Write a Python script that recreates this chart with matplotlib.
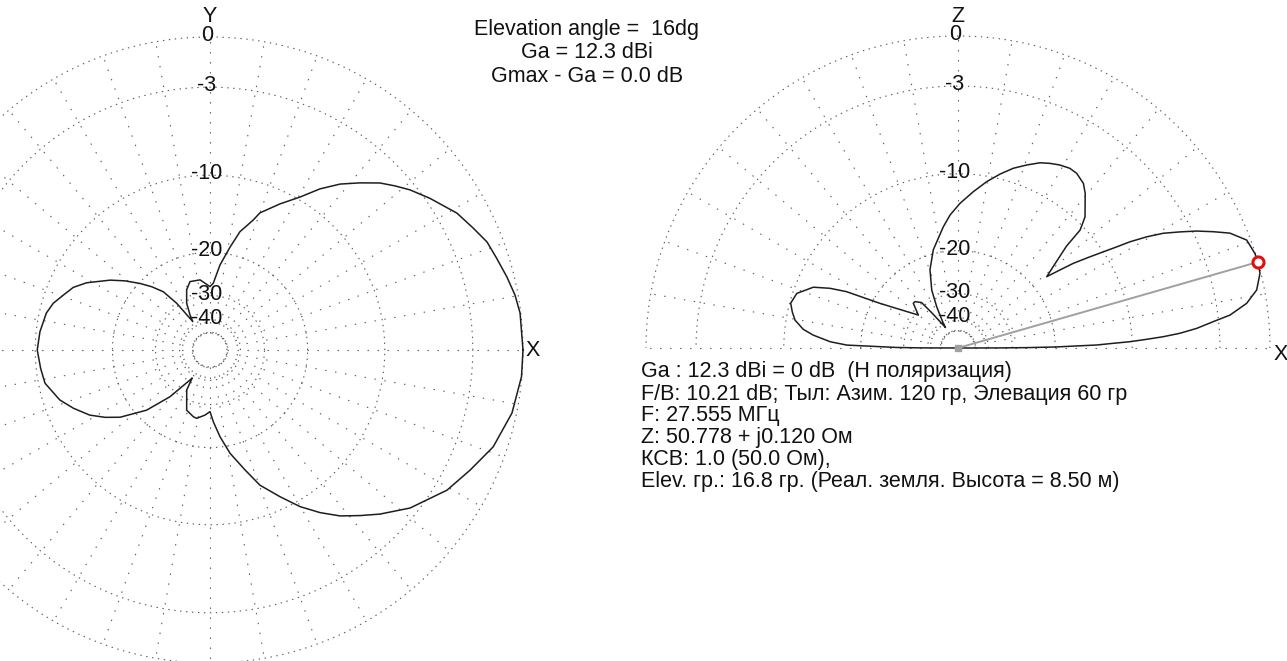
import numpy as np
import matplotlib
matplotlib.use('Agg')
import matplotlib.pyplot as plt

plt.rcParams['font.family'] = ['Liberation Sans', 'DejaVu Sans']
plt.rcParams['lines.scale_dashes'] = False

# ---------------- data ----------------
az_angle_deg = [0, 6.8, 10.2, 13.8, 17.7, 21.3, 24.8, 29.0, 34.6, 38.7,
                41.6, 44.5, 48.1, 51.9, 55.7, 59.5, 64.4, 70.0, 71.6, 75.8,
                79.0, 83.3, 87.2, 90.0, 98.1, 106.3, 111.2, 116.5, 119.7, 121.2,
                125.5, 128.7, 132.6, 136.4, 140.9, 145.0, 151.4, 155.4, 159.4, 163.4,
                167.3, 173.9, 180.0, 186.2, 191.4, 198.4, 203.1, 208.4, 212.7, 216.8,
                223.5, 229.4, 236.3, 237.5, 239.8, 248.8, 256.0, 259.0, 265.6, 270.0,
                272.6, 276.6, 281.0, 286.3, 290.3, 295.5, 299.9, 304.1, 308.1, 312.2,
                316.0, 321.7, 329.4, 335.2, 341.1, 348.2, 355.1, 360]
az_gain_db = [0, -0.04, -0.17, -0.40, -0.67, -0.88, -1.30, -1.77, -2.72, -3.44,
              -4.05, -4.68, -5.70, -6.78, -8.12, -9.73, -11.3, -13.1, -14.18, -16.17,
              -18.8, -22.25, -26.5, -27.4, -25.5, -25.4, -27.1, -30.7, -35.2, -38.5,
              -29.1, -24.6, -22.2, -20.2, -18.0, -16.2, -13.75, -12.58, -11.9, -11.14,
              -10.7, -10.37, -10.2, -10.44, -10.65, -11.7, -12.8, -14.2, -15.8, -17.6,
              -21.9, -27.9, -37.1, -38.5, -32.8, -27.1, -26.0, -25.8, -26.9, -27.9,
              -25.3, -21.9, -18.7, -15.75, -13.3, -11.25, -9.43, -8.0, -6.78, -5.78,
              -4.83, -3.52, -2.2, -1.52, -0.77, -0.25, -0.02, 0]

el_angle_deg = [0, 0.1, 0.3, 0.6, 1.24, 1.73, 2.1, 2.64, 3.15, 3.8,
                4.7, 5.9, 6.9, 8.8, 11.0, 13.9, 16.0, 17.6, 20.5, 22.9,
                24.5, 26.1, 27.6, 29.2, 30.5, 31.7, 32.5, 33.5, 34.8, 36.3,
                37.4, 38.8, 40.5, 43.2, 44.0, 45.9, 50.6, 52.7, 55.8, 58.1,
                60.9, 63.5, 66.1, 69.4, 72.9, 76.4, 80.2, 84.4, 89.2, 93.4,
                96.9, 104.1, 109.7, 114.4, 117.3, 120.8, 121.4, 126.6, 128.7, 132.8,
                135.0, 140.3, 150.2, 153.2, 155.0, 157.2, 161.3, 165.0, 167.7, 170.3,
                173.1, 174.9, 177.2, 178.5, 179.5, 179.8, 180]
el_gain_db = [-99, -35.8, -26.2, -20.0, -13.9, -11.97, -10.2, -8.61, -7.16, -5.8,
              -4.54, -3.35, -2.23, -1.13, -0.43, -0.05, 0, -0.02, -0.21, -0.95,
              -1.83, -2.75, -3.76, -4.85, -6.07, -7.45, -8.67, -10.0, -11.6, -13.4,
              -15.2, -17.3, -15.7, -12.7, -10.45, -9.2, -7.6, -7.05, -6.7, -6.66,
              -6.84, -7.10, -7.41, -8.02, -8.69, -9.54, -10.54, -11.78, -13.19, -14.6,
              -16.1, -19.3, -22.7, -27.3, -32.7, -40.9, -44.0, -33.8, -28.8, -27.4,
              -27.4, -30.9, -21.4, -15.7, -13.6, -11.8, -10.4, -10.1, -10.46, -10.9,
              -11.9, -13.1, -15.3, -17.7, -27.9, -36.0, -99]

ring_db = [0, -3, -10, -20, -30, -40, -50]
ring_labels = ['0', '-3', '-10', '-20', '-30', '-40']
spoke_step_deg = 10
max_el_deg = 16.0

title_lines = ['Elevation angle =  16dg', 'Ga = 12.3 dBi', 'Gmax - Ga = 0.0 dB']
info_lines = ['Ga : 12.3 dBi = 0 dB  (H поляризация)',
              'F/B: 10.21 dB; Тыл: Азим. 120 гр, Элевация 60 гр',
              'F: 27.555 МГц',
              'Z: 50.778 + j0.120 Ом',
              'КСВ: 1.0 (50.0 Ом),',
              'Elev. гр.: 16.8 гр. (Реал. земля. Высота = 8.50 м)']


def arrl(db):
    """ARRL log scale: radius factor 0.89 per 2 dB."""
    return 0.89 ** (-np.asarray(db, dtype=float) / 2.0)


W, H = 1287, 661
fig = plt.figure(figsize=(W / 100, H / 100), dpi=100)
fig.patch.set_facecolor('white')

ring_style = dict(color='#5a5a5a', lw=0.8, ls=(0, (1.0, 3.3)))
spoke_style = dict(color='#5a5a5a', lw=0.8, ls=(0, (1.0, 6.2)))
pat_style = dict(color='#1e1e1e', lw=1.1)
FS = 15.5
TXT = '#111111'


def make_axes(x0, x1, cx, cy, R):
    ax = fig.add_axes([x0 / W, 0, (x1 - x0) / W, 1])
    ax.set_xlim((x0 - cx) / R, (x1 - cx) / R)
    ax.set_ylim((cy - H) / R, cy / R)
    ax.set_aspect('equal', adjustable='datalim')
    ax.axis('off')
    return ax


def draw_grid(ax, full, R):
    t_end = 2 * np.pi if full else np.pi
    th = np.linspace(0, t_end, 1441)
    for db in ring_db:
        r = arrl(db)
        ax.plot(r * np.cos(th), r * np.sin(th), **ring_style)
    r_in = arrl(ring_db[-1])
    last = 360 if full else 181
    for a in range(0, last, spoke_step_deg):
        t = np.deg2rad(a)
        ax.plot([r_in * np.cos(t), np.cos(t)], [r_in * np.sin(t), np.sin(t)], **spoke_style)
    for db, lab in zip(ring_db, ring_labels):
        ax.text(-0.01, arrl(db) + 1.5 / R, lab, ha='center', va='center',
                fontsize=FS, color=TXT, zorder=5)


# ---------- left: azimuth ----------
CXL, CYL, RL = 210, 350, 313
axL = make_axes(0, 548, CXL, CYL, RL)
draw_grid(axL, True, RL)
ta = np.deg2rad(az_angle_deg)
ra = arrl(az_gain_db)
axL.plot(ra * np.cos(ta), ra * np.sin(ta), **pat_style, zorder=4)
axL.text(0, (CYL - 16) / RL, 'Y', ha='center', va='center', fontsize=FS, color=TXT)
axL.text((533 - CXL) / RL, 0, 'X', ha='center', va='center', fontsize=FS, color=TXT)

# ---------- right: elevation ----------
CXR, CYR, RR = 958, 348, 312
axR = make_axes(560, W, CXR, CYR, RR)
draw_grid(axR, False, RR)
te = np.deg2rad(el_angle_deg)
re = arrl(el_gain_db)
axR.plot(re * np.cos(te), re * np.sin(te), **pat_style, zorder=4)
tm = np.deg2rad(max_el_deg)
rm = arrl(0)
axR.plot([0, rm * np.cos(tm)], [0, rm * np.sin(tm)], color='#a0a0a0', lw=1.4, zorder=5)
axR.plot([0], [0], marker='s', ms=4, color='#a0a0a0', zorder=5)
axR.plot([rm * np.cos(tm)], [rm * np.sin(tm)], marker='o', ms=8, mfc='white',
         mec='#e01010', mew=2.2, zorder=6)
axR.text(0, (CYR - 16) / RR, 'Z', ha='center', va='center', fontsize=FS, color=TXT)
axR.text((1281 - CXR) / RR, (CYR - 355) / RR, 'X', ha='center', va='center',
         fontsize=FS, color=TXT)

# ---------- texts ----------
for i, s in enumerate(title_lines):
    fig.text(587 / W, 1 - (29 + i * 24) / H, s, ha='center', va='center',
             fontsize=FS, color=TXT)
for i, s in enumerate(info_lines):
    fig.text(641 / W, 1 - (372 + i * 22) / H, s, ha='left', va='center',
             fontsize=FS, color=TXT)

fig.savefig('out.png', dpi=100, facecolor='white')
